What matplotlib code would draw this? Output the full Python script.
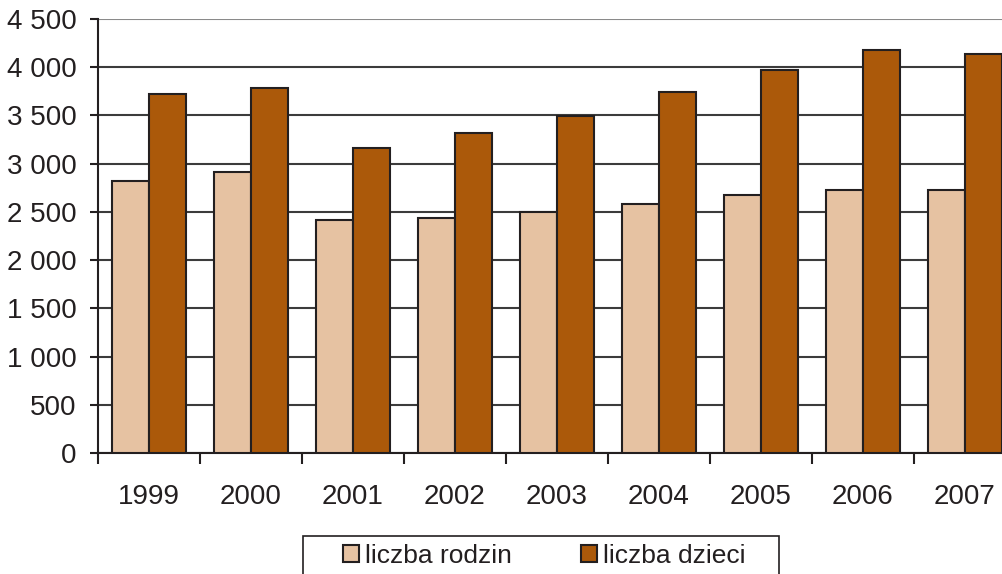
import matplotlib.pyplot as plt
from matplotlib.patches import Rectangle
import numpy as np

plt.rcParams['font.family'] = ['Liberation Sans', 'DejaVu Sans']

lata = ['1999', '2000', '2001', '2002', '2003', '2004', '2005', '2006', '2007']
rodziny = [2817, 2917, 2421, 2441, 2503, 2586, 2672, 2731, 2731]
dzieci = [3724, 3786, 3166, 3321, 3497, 3745, 3972, 4179, 4140]
yticks = [0, 500, 1000, 1500, 2000, 2500, 3000, 3500, 4000, 4500]
ytick_labels = ['0', '500', '1 000', '1 500', '2 000', '2 500', '3 000', '3 500', '4 000', '4 500']

fig = plt.figure(figsize=(10.03, 5.74), dpi=100)
ax = fig.add_axes([98/1003, 121/574, 918/1003, 434/574])

x = np.arange(len(lata))
w = 0.36
ax.bar(x - w/2, rodziny, w, color='#E6C2A2', edgecolor='#231F20', linewidth=1.5,
       label='liczba rodzin', zorder=3)
ax.bar(x + w/2, dzieci, w, color='#AB590A', edgecolor='#231F20', linewidth=1.5,
       label='liczba dzieci', zorder=3)

ax.set_xlim(-0.5, len(lata) - 0.5)
ax.set_ylim(0, 4500)
ax.set_yticks(yticks)
ax.set_yticklabels(ytick_labels, fontsize=20, color='#231F20')
ax.set_xticks(x)
ax.set_xticklabels(lata, fontsize=20, color='#231F20')
ax.set_xticks(np.arange(len(lata) + 1) - 0.5, minor=True)
ax.tick_params(axis='x', which='major', length=0, pad=22)
ax.tick_params(axis='x', which='minor', length=8, width=1.5, color='#231F20', direction='out')
ax.tick_params(axis='y', length=6, width=1.5, color='#231F20', pad=9.5)

ax.yaxis.grid(True, color='#3c3c3c', linewidth=1.5, zorder=0)
ax.get_ygridlines()[-1].set_color('#8a8a8a')
ax.set_axisbelow(True)
for s in ['top', 'right']:
    ax.spines[s].set_visible(False)
ax.spines['left'].set_linewidth(1.5)
ax.spines['left'].set_color('#231F20')
ax.spines['bottom'].set_linewidth(1.5)
ax.spines['bottom'].set_color('#231F20')

# ramka legendy (dolna krawedz poza obrazem)
fig.patches.append(Rectangle((303/1003, -0.05), (779-303)/1003, 0.05 + 1 - 536/574,
                             transform=fig.transFigure, fill=False,
                             edgecolor='#231F20', linewidth=1.2))
fig.legend(loc='upper left', bbox_to_anchor=(343/1003, 1 - 544/574), ncol=2,
           fontsize=19, frameon=False, handlelength=0.6, handleheight=0.6,
           handletextpad=0.25, columnspacing=2.6, borderpad=0, borderaxespad=0,
           labelcolor='#231F20')

fig.savefig('out.png', dpi=100)
